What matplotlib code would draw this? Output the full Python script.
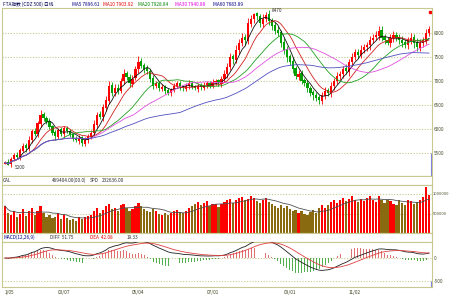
import numpy as np
import pandas as pd
import matplotlib
matplotlib.use("Agg")
import matplotlib.pyplot as plt

plt.rcParams['font.family'] = ['Liberation Sans Narrow', 'Noto Sans CJK SC', 'DejaVu Sans']

# --- daily candles ---
closes = [5300, 5250, 5380, 5450, 5420, 5560, 5650, 5600, 5780, 5950, 5900, 6120,
          6300, 6220, 6150, 6050, 5920, 5850, 5980, 5900, 6020, 5950, 5880, 5800,
          5760, 5820, 5700, 5780, 5850, 5920, 6100, 6300, 6250, 6450, 6600, 6900,
          6750, 6850, 6800, 7000, 7150, 7080, 6950, 7050, 7250, 7400, 7320, 7250,
          7200, 7050, 6900, 6950, 6850, 6880, 6800, 6750, 6820, 6900, 6950, 6880,
          6850, 6900, 6950, 6880, 6850, 6900, 6870, 6920, 6950, 6900, 6980, 7000,
          6950, 7050, 7150, 7300, 7500, 7450, 7650, 7800, 7900, 7850, 8200, 8300,
          8400, 8350, 8200, 8300, 8380, 8250, 8150, 8050, 8000, 7800, 7650, 7500,
          7400, 7250, 7100, 7150, 7000, 6950, 6850, 6750, 6700, 6650, 6600, 6700,
          6800, 6750, 6900, 7000, 7100, 7150, 7250, 7200, 7400, 7500, 7600, 7550,
          7650, 7700, 7750, 7850, 7900, 7950, 8050, 7900, 7850, 7800, 7900, 7950,
          7900, 7850, 7800, 7750, 7850, 7900, 7800, 7700, 7800, 7850, 8000, 8080]
opens = [5280, 5320, 5260, 5370, 5460, 5410, 5550, 5660, 5590, 5770, 5960, 5890,
         6110, 6310, 6230, 6160, 6060, 5930, 5840, 5990, 5890, 6030, 5960, 5890,
         5810, 5750, 5830, 5690, 5770, 5840, 5910, 6090, 6310, 6240, 6440, 6590,
         6910, 6740, 6860, 6790, 6990, 7160, 7090, 6940, 7060, 7240, 7410, 7330,
         7260, 7210, 7060, 6890, 6960, 6840, 6890, 6810, 6740, 6810, 6890, 6960,
         6890, 6840, 6890, 6960, 6890, 6840, 6910, 6860, 6910, 6960, 6890, 6970,
         7010, 6940, 7040, 7140, 7290, 7510, 7440, 7640, 7790, 7910, 7840, 8190,
         8290, 8410, 8360, 8190, 8290, 8390, 8260, 8160, 8060, 8010, 7810, 7660,
         7510, 7410, 7260, 7090, 7160, 7010, 6960, 6860, 6760, 6710, 6660, 6590,
         6690, 6810, 6740, 6890, 6990, 7110, 7140, 7260, 7190, 7390, 7490, 7610,
         7540, 7640, 7710, 7740, 7860, 7910, 7940, 8060, 7910, 7860, 7790, 7890,
         7960, 7910, 7860, 7810, 7740, 7840, 7910, 7810, 7690, 7790, 7840, 7990]
up_wick = [40, 60, 30, 50, 70, 40, 60, 50, 80, 40, 60, 50,
           90, 40, 50, 60, 30, 50, 40, 60, 50, 40, 30, 50,
           40, 60, 30, 50, 40, 60, 80, 50, 70, 60, 90, 100,
           60, 80, 70, 60, 90, 50, 60, 80, 70, 110, 60, 50,
           70, 40, 60, 50, 40, 60, 30, 50, 40, 60, 50, 40,
           30, 50, 60, 40, 30, 50, 40, 60, 50, 40, 60, 50,
           40, 60, 80, 70, 90, 60, 100, 80, 90, 70, 110, 80,
           20, 20, 40, 100, 58, 80, 60, 70, 90, 60, 80, 70,
           60, 80, 50, 70, 60, 50, 70, 40, 60, 50, 40, 60,
           80, 50, 70, 60, 80, 50, 70, 90, 60, 80, 70, 60,
           90, 70, 60, 80, 70, 90, 100, 80, 70, 60, 80, 90,
           60, 70, 80, 60, 70, 90, 60, 80, 70, 60, 90, 70]
dn_wick = [20, 0, 60, 40, 50, 60, 40, 70, 50, 60, 40, 50,
           60, 50, 40, 60, 50, 70, 40, 50, 60, 40, 50, 60,
           40, 70, 50, 40, 60, 50, 40, 60, 50, 70, 60, 80,
           70, 60, 80, 50, 60, 70, 80, 60, 50, 70, 60, 80,
           50, 70, 60, 40, 60, 50, 70, 40, 60, 50, 40, 60,
           50, 40, 60, 50, 40, 60, 50, 40, 60, 50, 40, 60,
           50, 70, 60, 80, 70, 90, 60, 80, 70, 100, 80, 60,
           90, 70, 80, 60, 70, 90, 80, 70, 60, 90, 80, 100,
           70, 90, 60, 80, 70, 60, 80, 70, 90, 60, 80, 60,
           70, 60, 80, 70, 60, 80, 70, 60, 90, 70, 60, 80,
           70, 60, 80, 90, 70, 60, 80, 70, 90, 60, 80, 70,
           60, 80, 90, 70, 80, 60, 120, 70, 60, 80, 70, 60]
# volume in thousands
volumes = [700, 520, 480, 560, 430, 500, 610, 450, 580, 640, 470, 560,
           690, 520, 430, 480, 390, 420, 510, 380, 460, 400, 350, 370,
           330, 410, 360, 420, 450, 480, 560, 640, 520, 600, 700, 760,
           610, 650, 580, 720, 740, 640, 560, 620, 700, 780, 700, 620,
           580, 540, 620, 560, 500, 480, 520, 470, 510, 560, 600, 540,
           520, 580, 640, 700, 760, 800, 720, 780, 820, 700, 740, 760,
           680, 740, 800, 840, 880, 780, 860, 900, 920, 840, 880, 940,
           900, 820, 780, 860, 900, 800, 740, 700, 660, 720, 640, 700,
           620, 560, 600, 520, 560, 500, 480, 540, 600, 520, 640, 720,
           640, 720, 800, 860, 780, 840, 900, 820, 880, 940, 860, 800,
           880, 820, 900, 940, 860, 800, 960, 840, 780, 860, 820, 760,
           720, 840, 780, 720, 860, 820, 740, 800, 860, 920, 1180, 980]

date_pos = [0, 20, 45, 70, 96, 118]
date_labels = ["1/05", "03/07", "05/04", "07/01", "09/01", "11/02"]

title = "FTA指数 (CDZ 500) 日线"
ma_names = ["MA5 7896.61", "MA10 7903.92", "MA20 7928.84", "MA30 7940.88", "MA60 7683.89"]
ma_periods = [5, 10, 20, 30, 60]
ma_colors = ["#101010", "#d02020", "#20a020", "#e050e0", "#5050c0"]
ma_text_colors = ["#000080", "#e00000", "#008000", "#e000e0", "#000080"]

# --- derived series ---
df = pd.DataFrame({"open": opens, "close": closes})
df["high"] = df[["open", "close"]].max(axis=1) + np.array(up_wick)
df["low"] = df[["open", "close"]].min(axis=1) - np.array(dn_wick)
df["vol"] = np.array(volumes) * 1000
x = np.arange(len(df))
up = df["close"] >= df["open"]

ema12 = df["close"].ewm(span=12, adjust=False).mean()
ema26 = df["close"].ewm(span=26, adjust=False).mean()
diff = ema12 - ema26
dea = diff.ewm(span=9, adjust=False).mean()
hist = 2 * (diff - dea)

frame = "#c8c890"
grid_kw = dict(color="#c8c890", linestyle=(0, (1, 1.5)), linewidth=0.8)
fs = 3.4

fig = plt.figure(figsize=(4.5, 3), dpi=100)
fig.patch.set_facecolor("white")

def make_ax(top_px, bot_px):
    ax = fig.add_axes([2 / 450, 1 - bot_px / 300, 430 / 450, (bot_px - top_px) / 300])
    for s in ax.spines.values():
        s.set_color(frame)
        s.set_linewidth(0.8)
    ax.set_xlim(-1, len(df))
    ax.tick_params(axis="both", length=0, labelsize=fs, colors="#505030", pad=1.5)
    ax.yaxis.tick_right()
    ax.set_xticks([])
    return ax

def ftext(px, py, s, color="#303030"):
    fig.text(px / 450, 1 - py / 300, s, fontsize=fs, color=color, va="center")

# price panel
ax = make_ax(8, 176)
ax.set_ylim(5020, 8520)
for v in [5500, 6000, 6500, 7000, 7500, 8000]:
    ax.axhline(v, **grid_kw, zorder=0)
ax.set_yticks([5500, 6000, 6500, 7000, 7500, 8000])
ax.set_yticklabels(["5500", "6000", "6500", "7000", "7500", "8000"])
col = np.where(up, "#ff0000", "#00a000")
ax.vlines(x, df["low"], df["high"], colors=col, linewidth=0.6, zorder=2)
ax.bar(x, (df["close"] - df["open"]).abs().clip(lower=8), bottom=df[["open", "close"]].min(axis=1),
       width=0.75, color=col, linewidth=0, zorder=3)
for p, c in zip(ma_periods, ma_colors):
    ax.plot(x, df["close"].rolling(p, min_periods=1).mean(), color=c, linewidth=0.6, zorder=4)
imax = int(df["high"].idxmax())
imin = int(df["low"].idxmin())
ax.text(imax + 1, df["high"][imax], f"{df['high'][imax]:.0f}", fontsize=fs, color="#303030", va="center")
ax.text(imin + 1.5, df["low"][imin], f"{df['low'][imin]:.0f}", fontsize=fs, color="#303030", va="center")
ax.vlines(len(df) - 0.5, 5020, 5500, colors="#8080e0", linewidth=0.8)
ax.plot([len(df) - 0.6], [8430], marker="s", markersize=2, color="#ff0000", linestyle="none")

# header
ftext(3, 4, title, "#000050")
for name, tc, px in zip(ma_names, ma_text_colors, [72, 103, 138, 175, 213]):
    ftext(px, 4, name, tc)

# volume header strip
axh = make_ax(176, 185)
axh.set_yticks([])
ftext(3, 180.5, "CAL")
ftext(52, 180.5, "469404.00(00.0)")
ftext(90, 180.5, "SPD")
ftext(102, 180.5, "232636.00")

# volume panel
axv = make_ax(185, 233)
axv.set_ylim(20000, 1225000)
for v in [500000, 1000000]:
    axv.axhline(v, **grid_kw, zorder=0)
axv.set_yticks([500000, 1000000])
axv.set_yticklabels(["500000", "1000000"])
axv.tick_params(axis="y", labelsize=3.0, pad=0.8)
vcol = np.where(up, "#ff0000", "#8a6a10")
axv.bar(x, df["vol"], width=0.75, color=vcol, linewidth=0, zorder=2)
axv.plot(x, df["vol"].rolling(10, min_periods=1).mean(), color="#505050", linewidth=0.6, zorder=3)

# macd header
axm_h = make_ax(233, 242)
axm_h.set_yticks([])
ftext(3, 237.5, "MACD(12,26,9)", "#000080")
ftext(50, 237.5, "DIFF  51.75")
ftext(90, 237.5, "DEA  42.08", "#e00000")
ftext(127, 237.5, "19.33")

# macd panel
axm = make_ax(242, 287)
axm.set_ylim(-630, 348)
for v in [0, -500]:
    axm.axhline(v, **grid_kw, zorder=0)
axm.set_yticks([0, -500])
axm.set_yticklabels(["0", "-500"])
hcol = np.where(hist >= 0, "#e07070", "#50b050")
axm.bar(x, hist, width=0.3, color=hcol, linewidth=0, zorder=2)
axm.plot(x, diff, color="#202020", linewidth=0.6, zorder=3)
axm.plot(x, dea, color="#e04040", linewidth=0.6, zorder=3)
axm.vlines(len(df) - 0.5, -630, -500, colors="#8080e0", linewidth=0.8)
axm.set_xticks(date_pos)
axm.set_xticklabels(date_labels)
axm.tick_params(axis="x", labelsize=fs, pad=2.5, colors="#404020")
axm.get_xticklabels()[0].set_ha("left")

fig.savefig("out.png", dpi=100, facecolor="white")
